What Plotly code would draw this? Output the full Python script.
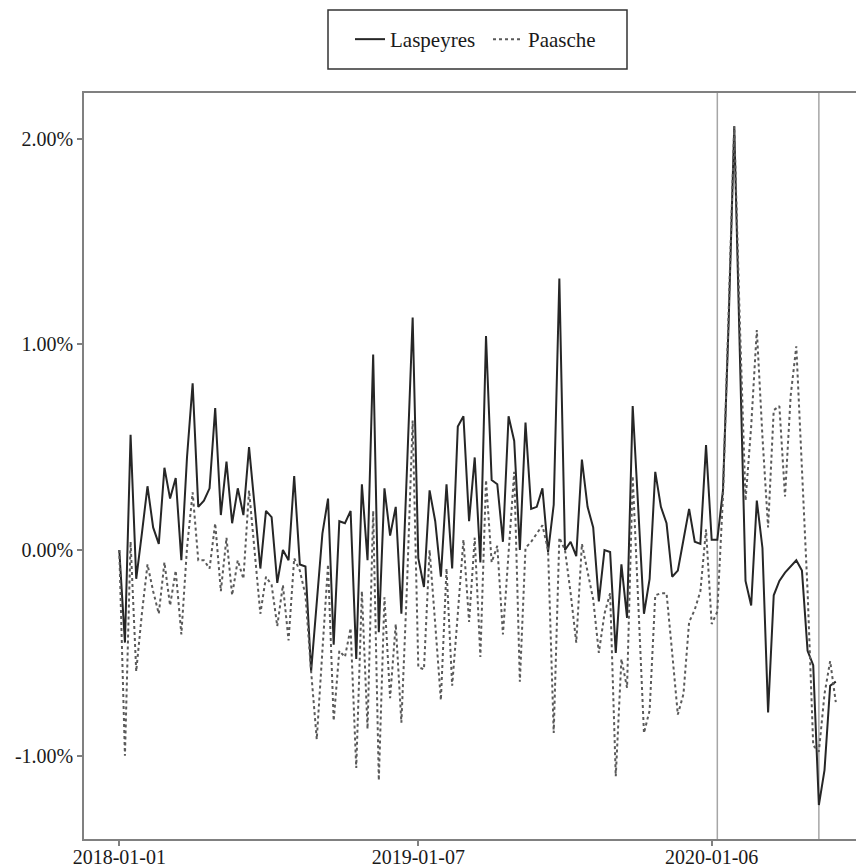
import pandas as pd
import plotly.graph_objects as go

start_date = "2018-01-01"
n_weeks = 128
dates = pd.date_range(start_date, periods=n_weeks, freq="7D")

laspeyres = [
    0.00, -0.45, 0.56, -0.14, 0.08, 0.31, 0.11, 0.03, 0.40, 0.25,
    0.35, -0.05, 0.45, 0.81, 0.21, 0.24, 0.30, 0.69, 0.17, 0.43,
    0.13, 0.30, 0.17, 0.50, 0.21, -0.09, 0.19, 0.16, -0.16, 0.00,
    -0.05, 0.36, -0.07, -0.08, -0.59, -0.26, 0.08, 0.25, -0.46, 0.14,
    0.13, 0.19, -0.53, 0.32, -0.05, 0.95, -0.40, 0.30, 0.07, 0.21,
    -0.31, 0.40, 1.13, -0.04, -0.18, 0.29, 0.14, -0.13, 0.32, -0.09,
    0.60, 0.65, 0.14, 0.45, -0.06, 1.04, 0.34, 0.32, 0.04, 0.65,
    0.53, 0.00, 0.62, 0.20, 0.21, 0.30, -0.01, 0.22, 1.32, 0.00,
    0.04, -0.03, 0.44, 0.21, 0.11, -0.25, 0.00, -0.01, -0.50, -0.07,
    -0.33, 0.70, 0.20, -0.31, -0.14, 0.38, 0.21, 0.13, -0.13, -0.10,
    0.05, 0.20, 0.04, 0.03, 0.51, 0.05, 0.05, 0.29, 1.10, 2.06,
    0.95, -0.15, -0.27, 0.24, 0.01, -0.79, -0.22, -0.15, -0.11, -0.08,
    -0.05, -0.10, -0.49, -0.56, -1.24, -1.07, -0.66, -0.64,
]

paasche = [
    0.00, -1.00, 0.04, -0.59, -0.31, -0.07, -0.20, -0.31, -0.06, -0.27,
    -0.10, -0.41, 0.01, 0.28, -0.05, -0.05, -0.09, 0.13, -0.20, 0.06,
    -0.22, -0.05, -0.14, 0.29, -0.01, -0.31, -0.13, -0.17, -0.37, -0.17,
    -0.44, -0.04, -0.10, -0.22, -0.59, -0.92, -0.49, -0.07, -0.83, -0.49,
    -0.52, -0.38, -1.06, -0.20, -0.87, 0.19, -1.12, -0.23, -0.72, -0.36,
    -0.84, -0.17, 0.63, -0.57, -0.58, 0.00, -0.36, -0.73, -0.09, -0.66,
    -0.31, 0.05, -0.35, 0.06, -0.52, 0.34, -0.06, 0.02, -0.41, -0.02,
    0.38, -0.64, 0.01, 0.04, 0.08, 0.12, 0.00, -0.89, 0.06, 0.00,
    -0.21, -0.45, 0.03, -0.10, -0.24, -0.50, -0.31, -0.21, -1.10, -0.53,
    -0.67, 0.36, -0.27, -0.89, -0.78, -0.22, -0.21, -0.21, -0.50, -0.80,
    -0.70, -0.35, -0.29, -0.20, 0.10, -0.36, -0.30, 0.26, 1.15, 2.06,
    1.10, 0.24, 0.60, 1.07, 0.55, 0.11, 0.68, 0.70, 0.26, 0.75,
    0.99, 0.40, -0.20, -0.95, -0.98, -0.70, -0.54, -0.74,
]

x_tick_dates = ["2018-01-01", "2019-01-07", "2020-01-06"]
y_tick_values = [-1, 0, 1, 2]
event_dates = ["2020-01-13", "2020-05-18"]

FONT = "Liberation Serif"
TXT = "#1a1a1a"

# page has an 8px body margin; layout coordinates below are relative to the figure
FIG_W, FIG_H = 856, 860
M_L, M_T, M_B = 76, 85, 29
PW = FIG_W - M_L
PH = FIG_H - M_T - M_B


def paper_x(lx):
    return (lx - M_L) / PW


def paper_y(ly):
    return 1 + (M_T - ly) / PH


fig = go.Figure()
fig.add_trace(go.Scatter(
    x=dates, y=laspeyres, mode="lines", name="Laspeyres",
    line=dict(color="#262626", width=2, dash="solid"),
))
fig.add_trace(go.Scatter(
    x=dates, y=paasche, mode="lines", name="Paasche",
    line=dict(color="#5a5a5a", width=2, dash="dot"),
))

for d in event_dates:
    fig.add_shape(type="line", xref="x", yref="paper", x0=d, x1=d, y0=0, y1=1,
                  line=dict(color="#a6a6a6", width=1.5), layer="below")

# legend frame
fig.add_shape(type="rect", xref="paper", yref="paper",
              x0=paper_x(320), x1=paper_x(619), y0=paper_y(61), y1=paper_y(2),
              line=dict(color="#333333", width=1.5), fillcolor="white", layer="below")

fig.update_layout(
    width=FIG_W, height=FIG_H,
    margin=dict(l=M_L, r=0, t=M_T, b=M_B, autoexpand=False),
    paper_bgcolor="white", plot_bgcolor="white",
    font=dict(family=FONT, size=20, color=TXT),
    showlegend=True,
    legend=dict(
        orientation="h", x=paper_x(342), xanchor="left", y=paper_y(31.5), yanchor="middle",
        borderwidth=0, bgcolor="rgba(0,0,0,0)",
        font=dict(family=FONT, size=21, color=TXT),
        entrywidth=93, entrywidthmode="pixels",
    ),
    xaxis=dict(
        type="date", automargin=False,
        range=["2017-11-18 05:00", "2020-07-13"],
        tickvals=x_tick_dates, ticktext=x_tick_dates,
        showgrid=False, zeroline=False,
        showline=True, linecolor="#808080", linewidth=1.5, mirror=True,
        ticks="outside", ticklen=5, tickcolor="#808080", tickwidth=1.5,
        ticklabelstandoff=-6,
        tickfont=dict(family=FONT, size=20, color=TXT),
    ),
    yaxis=dict(
        automargin=False,
        range=[-1.405, 2.222],
        tickvals=y_tick_values,
        ticktext=[f"{v:.2f}%" for v in y_tick_values],
        showgrid=False, zeroline=False,
        showline=True, linecolor="#808080", linewidth=1.5, mirror=False,
        ticks="outside", ticklen=5, tickcolor="#808080", tickwidth=1.5,
        tickfont=dict(family=FONT, size=20, color=TXT),
    ),
)

fig.write_html("out.html")
